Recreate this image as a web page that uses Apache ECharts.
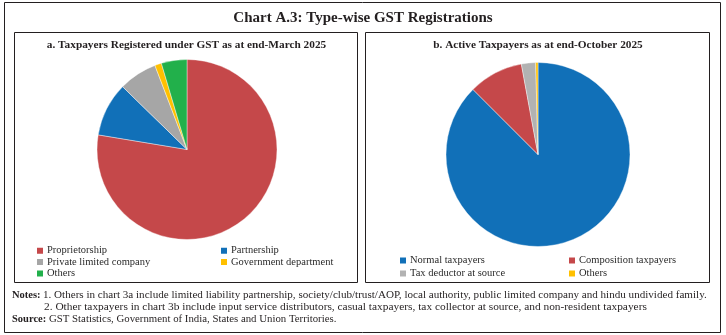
<!DOCTYPE html>
<html>
<head>
<meta charset="utf-8">
<script src="https://cdn.jsdelivr.net/npm/echarts@6/dist/echarts.min.js"></script>
<style>html,body{margin:0;padding:0;background:#fff}#c{width:726px;height:335px}</style>
</head>
<body>
<div id="c"></div>
<script>
// Chart A.3 data (percent shares)
const leftCategories = ['Proprietorship', 'Partnership', 'Private limited company', 'Government department', 'Others'];
const leftValues = [77.6, 9.7, 6.9, 1.2, 4.6];
const leftColors = ['#c5484a', '#1170b8', '#a6a6a6', '#ffc000', '#22b04b'];

const rightCategories = ['Normal taxpayers', 'Composition taxpayers', 'Tax deductor at source', 'Others'];
const rightValues = [87.5, 9.6, 2.5, 0.4];
const rightColors = ['#1170b8', '#c5484a', '#b2b2b2', '#ffc000'];

const titleText = 'Chart A.3: Type-wise GST Registrations';
const leftTitle = 'a. Taxpayers Registered under GST as at end-March 2025';
const rightTitle = 'b. Active Taxpayers as at end-October 2025';
const notes = [
  '1. Others in chart 3a include limited liability partnership, society/club/trust/AOP, local authority, public limited company and hindu undivided family.',
  '2. Other taxpayers in chart 3b include input service distributors, casual taxpayers, tax collector at source, and non-resident taxpayers'
];
const sourceText = 'GST Statistics, Government of India, States and Union Territories.';

// right-pie names get a trailing marker so "Others" keeps its own colour
const rKey = n => n + ' ';
const strip = n => n.replace(/\s+$/, '');

const FONT = '"Liberation Serif", "DejaVu Serif", serif';

const chart = echarts.init(document.getElementById('c'), null, {renderer: 'canvas'});

function legendCol(names, left, top, lh) {
  return {
    data: names, left: left, top: top, orient: 'vertical', padding: 0,
    itemWidth: 8, itemHeight: 8, itemGap: 0, icon: 'rect',
    selectedMode: false, formatter: strip,
    textStyle: {fontFamily: FONT, fontSize: 10.5, color: '#2a2a2a', lineHeight: lh, padding: [0, 0, 0, -2]}
  };
}

chart.setOption({
  animation: false,
  title: [
    {text: titleText, left: 'center', top: 6, textStyle: {fontFamily: FONT, fontSize: 15, fontWeight: 'bold', color: '#231f20'}}
  ],
  legend: [
    legendCol([leftCategories[0], leftCategories[2], leftCategories[4]], 35, 245, 11.4),
    legendCol([leftCategories[1], leftCategories[3]], 219, 245, 11.4),
    legendCol([rKey(rightCategories[0]), rKey(rightCategories[2])], 398, 254, 13),
    legendCol([rKey(rightCategories[1]), rKey(rightCategories[3])], 567, 254, 13)
  ],
  series: [
    {
      type: 'pie', center: [187, 149.5], radius: [0, 90], startAngle: 90, clockwise: true,
      label: {show: false}, labelLine: {show: false}, silent: true,
      itemStyle: {borderColor: '#fff', borderWidth: 0.4},
      data: leftCategories.map((n, i) => ({name: n, value: leftValues[i], itemStyle: {color: leftColors[i]}}))
    },
    {
      type: 'pie', center: [538, 154.5], radius: [0, 92], startAngle: 90, clockwise: true,
      label: {show: false}, labelLine: {show: false}, silent: true,
      itemStyle: {borderColor: '#fff', borderWidth: 0.4},
      data: rightCategories.map((n, i) => ({name: rKey(n), value: rightValues[i], itemStyle: {color: rightColors[i]}}))
    }
  ],
  graphic: [
    {type: 'rect', shape: {x: 4.5, y: 2.5, width: 716, height: 330}, style: {fill: 'none', stroke: '#231f20', lineWidth: 1}},
    {type: 'rect', shape: {x: 14.5, y: 32.5, width: 343, height: 250}, style: {fill: 'none', stroke: '#231f20', lineWidth: 1}},
    {type: 'rect', shape: {x: 365.5, y: 32.5, width: 344, height: 250}, style: {fill: 'none', stroke: '#231f20', lineWidth: 1}},
    {type: 'text', x: 186.5, y: 45, style: {text: leftTitle, font: 'bold 11.3px ' + FONT, fill: '#231f20', align: 'center', verticalAlign: 'middle'}},
    {type: 'text', x: 538, y: 45, style: {text: rightTitle, font: 'bold 11.3px ' + FONT, fill: '#231f20', align: 'center', verticalAlign: 'middle'}},
    {type: 'text', left: 12, top: 290, style: {text: 'Notes:', font: 'bold 10.5px ' + FONT, fill: '#231f20'}},
    {type: 'text', left: 43, top: 290, style: {text: notes[0], font: '11.1px ' + FONT, fill: '#231f20'}},
    {type: 'text', left: 44, top: 302, style: {text: notes[1], font: '11.4px ' + FONT, fill: '#231f20'}},
    {type: 'text', left: 12, top: 314, style: {text: 'Source:', font: 'bold 10.5px ' + FONT, fill: '#231f20'}},
    {type: 'text', left: 49, top: 314, style: {text: sourceText, font: '10.8px ' + FONT, fill: '#231f20'}}
  ]
});
</script>
</body>
</html>
